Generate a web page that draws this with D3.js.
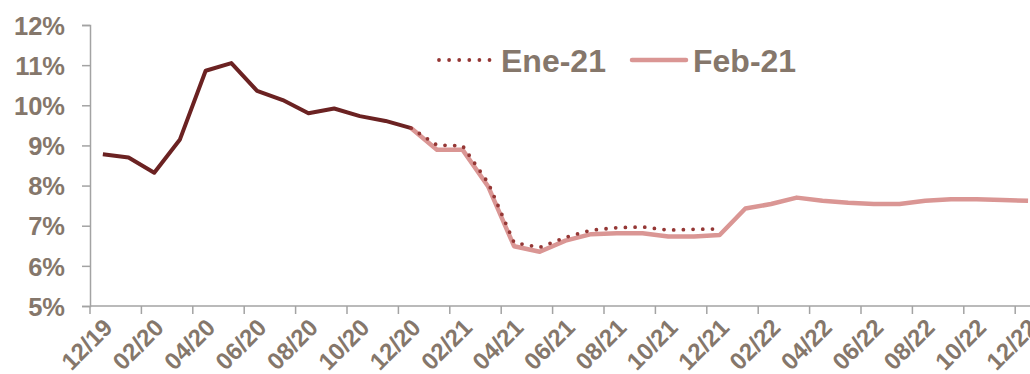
<!DOCTYPE html>
<html>
<head>
<meta charset="utf-8">
<script src="https://cdn.jsdelivr.net/npm/d3@7"></script>
<style>
  html, body { margin: 0; padding: 0; background: #fff; }
  svg { display: block; }
  text { font-family: "Liberation Sans", Arial, sans-serif; font-weight: bold; fill: #85776B; }
</style>
</head>
<body>
<svg id="chart" width="1030" height="374"></svg>
<script>
// Monthly categories, 12/19 .. 12/22
const months = [
  "12/19","01/20","02/20","03/20","04/20","05/20","06/20","07/20","08/20","09/20","10/20","11/20",
  "12/20","01/21","02/21","03/21","04/21","05/21","06/21","07/21","08/21","09/21","10/21","11/21",
  "12/21","01/22","02/22","03/22","04/22","05/22","06/22","07/22","08/22","09/22","10/22","11/22","12/22"
];

// Observed history (12/19 .. 12/20), percent
const historyValues = [8.78, 8.70, 8.32, 9.15, 10.86, 11.05, 10.36, 10.13, 9.80, 9.92, 9.73, 9.61, 9.43];

// "Ene-21" forecast (12/20 .. 12/21), percent
const eneValues = [9.43, 9.01, 8.99, 8.06, 6.58, 6.46, 6.71, 6.89, 6.95, 6.97, 6.89, 6.91, 6.92];

// "Feb-21" forecast (12/20 .. 12/22), percent
const febValues = [9.43, 8.89, 8.89, 7.97, 6.49, 6.35, 6.63, 6.79, 6.81, 6.81, 6.73, 6.73, 6.77,
                   7.43, 7.54, 7.70, 7.62, 7.57, 7.54, 7.54, 7.62, 7.66, 7.66, 7.64, 7.62];

const yTicks = [5, 6, 7, 8, 9, 10, 11, 12];
const seriesNames = ["Ene-21", "Feb-21"];

const svg = d3.select("#chart");
const plotLeft = 90, plotTop = 25, plotBottom = 306;
const band = 25.7;
const plotRight = plotLeft + band * months.length;

const x = d3.scaleBand().domain(months).range([plotLeft, plotRight]);
const y = d3.scaleLinear().domain([5, 12]).range([plotBottom, plotTop]);

const axisColor = "#A3A3A3";

// Y axis
const yAxis = svg.append("g")
  .attr("transform", `translate(${plotLeft},0)`)
  .call(d3.axisLeft(y).tickValues(yTicks).tickSize(8).tickPadding(17).tickFormat(d => d + "%"));
yAxis.select(".domain").attr("stroke", axisColor).attr("stroke-width", 1.5);
yAxis.selectAll(".tick line").attr("stroke", axisColor).attr("stroke-width", 1.5);
yAxis.selectAll(".tick text")
  .attr("font-size", 25.5).attr("fill", "#85776B").attr("dy", "0.36em")
  .style("font-family", "'Liberation Sans', Arial, sans-serif").style("font-weight", "bold");

// X axis: line, boundary ticks every two months, rotated labels
const xg = svg.append("g");
xg.append("line")
  .attr("x1", plotLeft).attr("x2", plotRight).attr("y1", plotBottom).attr("y2", plotBottom)
  .attr("stroke", axisColor).attr("stroke-width", 1.5);
const labelled = months.filter((m, i) => i % 2 === 0);
xg.selectAll("line.tick").data(labelled).join("line")
  .attr("class", "tick")
  .attr("x1", d => x(d)).attr("x2", d => x(d))
  .attr("y1", plotBottom).attr("y2", plotBottom + 8)
  .attr("stroke", axisColor).attr("stroke-width", 1.5);
xg.selectAll("text").data(labelled).join("text")
  .attr("font-size", 24)
  .attr("text-anchor", "end")
  .attr("transform", d => {
    const cx = x(d) + x.bandwidth() / 2 + 11;
    return `translate(${cx},${plotBottom + 23}) rotate(-45)`;
  })
  .text(d => d);

// Lines
const line = d3.line()
  .x(d => x(d.m) + x.bandwidth() / 2)
  .y(d => y(d.v));

const historyData = historyValues.map((v, i) => ({ m: months[i], v }));
const eneData = eneValues.map((v, i) => ({ m: months[12 + i], v }));
const febData = febValues.map((v, i) => ({ m: months[12 + i], v }));

svg.append("path").datum(historyData)
  .attr("d", line).attr("fill", "none")
  .attr("stroke", "#6B2222").attr("stroke-width", 4).attr("stroke-linejoin", "round");

svg.append("path").datum(febData)
  .attr("d", line).attr("fill", "none")
  .attr("stroke", "#DA9694").attr("stroke-width", 4.5).attr("stroke-linejoin", "round");

svg.append("path").datum(eneData)
  .attr("d", line).attr("fill", "none")
  .attr("stroke", "#953735").attr("stroke-width", 3.8)
  .attr("stroke-linecap", "round").attr("stroke-dasharray", "0,9.7");

// Legend
const lg = svg.append("g");
lg.append("line")
  .attr("x1", 439).attr("x2", 490).attr("y1", 60).attr("y2", 60)
  .attr("stroke", "#953735").attr("stroke-width", 3.8)
  .attr("stroke-linecap", "round").attr("stroke-dasharray", "0,10.1");
lg.append("text").attr("x", 501).attr("y", 71.5).attr("font-size", 32).text(seriesNames[0]);
lg.append("line")
  .attr("x1", 632).attr("x2", 686).attr("y1", 60).attr("y2", 60)
  .attr("stroke", "#DA9694").attr("stroke-width", 4.5).attr("stroke-linecap", "round");
lg.append("text").attr("x", 693).attr("y", 71.5).attr("font-size", 32).text(seriesNames[1]);
</script>
</body>
</html>
